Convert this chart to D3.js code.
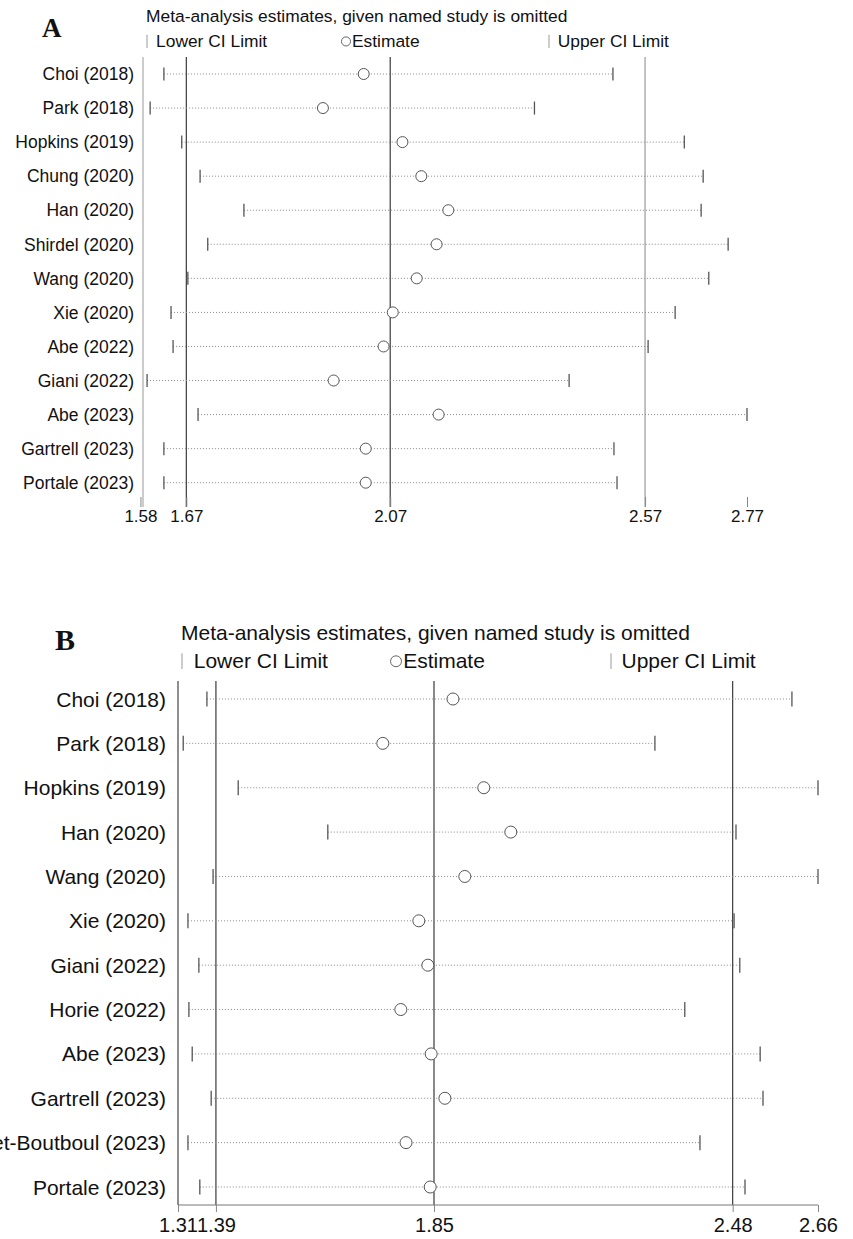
<!DOCTYPE html>
<html>
<head>
<meta charset="utf-8">
<script src="https://cdn.jsdelivr.net/npm/d3@7"></script>
<style>
  body { margin: 0; background: #fff; }
  text { font-family: Arial, "Liberation Sans", sans-serif; fill: #111; }
</style>
</head>
<body>
<div id="chart"></div>
<script>
// Panel A data
const studiesA = ["Choi (2018)", "Park (2018)", "Hopkins (2019)", "Chung (2020)", "Han (2020)", "Shirdel (2020)",
  "Wang (2020)", "Xie (2020)", "Abe (2022)", "Giani (2022)", "Abe (2023)", "Gartrell (2023)", "Portale (2023)"];
const estA   = [2.018, 1.938, 2.094, 2.131, 2.184, 2.161, 2.122, 2.075, 2.057, 1.959, 2.165, 2.022, 2.022];
const lowerA = [1.626, 1.599, 1.661, 1.697, 1.783, 1.712, 1.673, 1.640, 1.644, 1.593, 1.693, 1.626, 1.626];
const upperA = [2.507, 2.353, 2.647, 2.684, 2.680, 2.733, 2.695, 2.629, 2.576, 2.421, 2.770, 2.509, 2.515];
const ticksA = [1.58, 1.67, 2.07, 2.57, 2.77];
const refA   = [1.67, 2.07, 2.57];

// Panel B data
const studiesB = ["Choi (2018)", "Park (2018)", "Hopkins (2019)", "Han (2020)", "Wang (2020)", "Xie (2020)",
  "Giani (2022)", "Horie (2022)", "Abe (2023)", "Gartrell (2023)", "et-Boutboul (2023)", "Portale (2023)"];
const estB   = [1.890, 1.742, 1.955, 2.012, 1.915, 1.818, 1.837, 1.780, 1.844, 1.873, 1.791, 1.842];
const lowerB = [1.371, 1.321, 1.437, 1.626, 1.384, 1.331, 1.354, 1.333, 1.340, 1.380, 1.331, 1.356];
const upperB = [2.605, 2.316, 2.660, 2.487, 2.660, 2.483, 2.495, 2.379, 2.538, 2.544, 2.411, 2.506];
const ticksB = [1.31, 1.39, 1.85, 2.48, 2.66];
const refB   = [1.39, 1.85, 2.48];

const title = "Meta-analysis estimates, given named study is omitted";

const svg = d3.select("#chart")
  .append("svg")
  .attr("width", 853)
  .attr("height", 1239);

function drawPanel(p) {
  const g = svg.append("g");

  const x = d3.scaleLinear().domain(p.domain).range([p.left, p.right]);
  const y = d3.scalePoint().domain(p.studies).range([p.firstRow, p.lastRow]);

  // panel letter
  g.append("text")
    .attr("x", p.letterX).attr("y", p.letterY)
    .style("font-family", "'Liberation Serif', 'Times New Roman', serif")
    .style("font-weight", "bold")
    .style("font-size", p.letterSize + "px")
    .text(p.letter);

  // title + legend
  g.append("text")
    .attr("x", p.left + 3).attr("y", p.titleY)
    .style("font-size", p.font + "px")
    .text(title);

  const ly = p.legendY;
  const fs = p.font;
  g.append("line")
    .attr("x1", p.left + 4).attr("x2", p.left + 4)
    .attr("y1", ly - fs * 0.7).attr("y2", ly + 1)
    .attr("stroke", "#999");
  g.append("text").attr("x", p.left + fs * 0.75).attr("y", ly)
    .style("font-size", fs + "px").text("Lower CI Limit");
  g.append("circle")
    .attr("cx", p.legendEstX).attr("cy", ly - fs * 0.32).attr("r", fs * 0.26)
    .attr("fill", "none").attr("stroke", "#666");
  g.append("text").attr("x", p.legendEstX + fs * 0.34).attr("y", ly)
    .style("font-size", fs + "px").text("Estimate");
  g.append("line")
    .attr("x1", p.legendUpX).attr("x2", p.legendUpX)
    .attr("y1", ly - fs * 0.7).attr("y2", ly + 1)
    .attr("stroke", "#999");
  g.append("text").attr("x", p.legendUpX + fs * 0.5).attr("y", ly)
    .style("font-size", fs + "px").text("Upper CI Limit");

  // left axis line
  g.append("line")
    .attr("x1", p.left).attr("x2", p.left)
    .attr("y1", p.top).attr("y2", p.bottom)
    .attr("stroke", p.leftColor).attr("stroke-width", 1.2);

  // reference lines (combined estimate and CI)
  g.selectAll(".ref")
    .data(p.refs)
    .enter().append("line")
    .attr("x1", d => x(d)).attr("x2", d => x(d))
    .attr("y1", p.top).attr("y2", p.bottom)
    .attr("stroke", (d, i) => p.refColors[i])
    .attr("stroke-width", 1.2);

  // x axis
  const axis = g.append("g")
    .attr("transform", `translate(0,${p.bottom})`)
    .call(d3.axisBottom(x).tickValues(p.ticks).tickFormat(d3.format(".2f")).tickSize(p.tickSize).tickPadding(p.tickPad));
  axis.selectAll("text").style("font-size", p.tickFont + "px").style("fill", "#111");
  axis.selectAll(".tick line").attr("stroke", "#888").attr("transform", `translate(0,${-p.tickShift})`);
  if (p.showDomain) {
    axis.select(".domain").attr("stroke", "#777").attr("d", `M${p.left},0H${p.right}`);
  } else {
    axis.select(".domain").remove();
  }

  // study labels
  g.selectAll(".lab")
    .data(p.studies)
    .enter().append("text")
    .attr("x", p.labelX)
    .attr("y", d => y(d) + fs * 0.36)
    .attr("text-anchor", "end")
    .style("font-size", p.labelFont + "px")
    .text(d => d);

  const rows = p.studies.map((s, i) => ({ s, lo: p.lower[i], est: p.est[i], hi: p.upper[i] }));

  // dotted CI lines
  g.selectAll(".ci")
    .data(rows)
    .enter().append("line")
    .attr("x1", d => x(d.lo)).attr("x2", d => x(d.hi))
    .attr("y1", d => y(d.s)).attr("y2", d => y(d.s))
    .attr("stroke", "#8a8a8a")
    .attr("stroke-width", 1)
    .attr("stroke-dasharray", "1,2");

  // CI caps
  const capH = p.capH;
  ["lo", "hi"].forEach(k => {
    g.selectAll(".cap-" + k)
      .data(rows)
      .enter().append("line")
      .attr("x1", d => x(d[k])).attr("x2", d => x(d[k]))
      .attr("y1", d => y(d.s) - capH / 2).attr("y2", d => y(d.s) + capH / 2)
      .attr("stroke", "#555")
      .attr("stroke-width", 1.3);
  });

  // estimates
  g.selectAll(".est")
    .data(rows)
    .enter().append("circle")
    .attr("cx", d => x(d.est))
    .attr("cy", d => y(d.s))
    .attr("r", p.r)
    .attr("fill", "#fff")
    .attr("stroke", "#555")
    .attr("stroke-width", 1);
}

drawPanel({
  letter: "A", letterX: 42, letterY: 37, letterSize: 27,
  studies: studiesA, est: estA, lower: lowerA, upper: upperA,
  ticks: ticksA, refs: refA, refColors: ["#3a3a3a", "#3a3a3a", "#9a9a9a"],
  domain: [1.585, 2.77], left: 143, right: 747,
  top: 57, bottom: 507, firstRow: 74, lastRow: 482.7,
  titleY: 22, legendY: 47, legendEstX: 346, legendUpX: 549,
  font: 17.4, labelFont: 17.5, labelX: 134, leftColor: "#aaa",
  tickSize: 10, tickShift: 10, tickPad: -7, tickFont: 17, showDomain: false,
  capH: 13, r: 5.5
});

drawPanel({
  letter: "B", letterX: 55, letterY: 650, letterSize: 30,
  studies: studiesB, est: estB, lower: lowerB, upper: upperB,
  ticks: ticksB, refs: refB, refColors: ["#3a3a3a", "#3a3a3a", "#3a3a3a"],
  domain: [1.31, 2.66], left: 178, right: 818,
  top: 681, bottom: 1205, firstRow: 699, lastRow: 1187,
  titleY: 640, legendY: 668, legendEstX: 396, legendUpX: 611,
  font: 21, labelFont: 21, labelX: 166, leftColor: "#444",
  tickSize: 7, tickShift: 0, tickPad: 6, tickFont: 20, showDomain: true,
  capH: 15, r: 6
});
</script>
</body>
</html>
